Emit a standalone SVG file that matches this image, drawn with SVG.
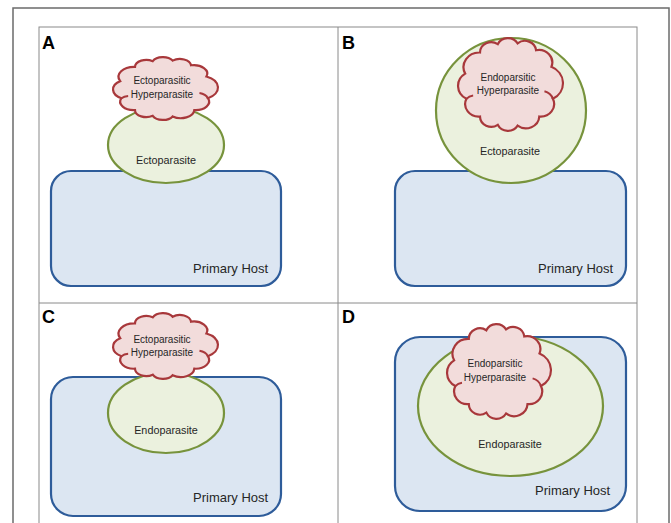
<svg xmlns="http://www.w3.org/2000/svg" xmlns:xlink="http://www.w3.org/1999/xlink" width="671" height="523" viewBox="0 0 671 523">
<style>
.frame{fill:none;stroke:#6b6b6b;stroke-width:1.5}
.grid{fill:none;stroke:#8a8a8a;stroke-width:1}
.host{fill:#dce6f2;stroke:#2e5c9a;stroke-width:2.2}
.para{fill:#ebf1de;stroke:#77933c;stroke-width:2.2}
.cloud{fill:#f2dcdb;stroke:#a8383b;stroke-width:2.2;vector-effect:non-scaling-stroke}
.hook{fill:none;stroke:#a8383b;stroke-width:2;vector-effect:non-scaling-stroke}
.lbl{font-family:"Liberation Sans",Arial,sans-serif;font-weight:bold;font-size:18px;fill:#000}
.t{font-family:"Liberation Sans",Arial,sans-serif;fill:#262626;text-anchor:middle}
.s{font-size:10px}
.m{font-size:10.8px}
.h{font-family:"Liberation Sans",Arial,sans-serif;font-size:13px;fill:#262626}
</style>
<defs>
<g id="cloudShape">
<path class="cloud" d="M11.5 63.7 A14 14 0 0 1 10.4 39.6 A14 14 0 0 1 23.6 19.4 A10 10 0 0 1 39.4 11.4 A10 10 0 0 1 57.1 10.6 A10 10 0 0 1 73.5 17.2 A12 12 0 0 1 87.2 33.1 A17 17 0 0 1 88.5 63.7 A12 12 0 0 1 76.4 80.6 A12 12 0 0 1 57.1 89.4 A10 10 0 0 1 39.4 88.6 A10 10 0 0 1 23.6 80.6 A12 12 0 0 1 11.5 63.7 Z"/>
<path class="hook" d="M11.5 63.7 A9 9 0 0 1 17.5 60.5"/>
<path class="hook" d="M88.5 63.7 A11 11 0 0 0 81 56.5"/>
</g>
</defs>
<rect class="frame" x="13" y="8" width="656" height="530"/>
<g id="grid">
<rect class="grid" x="39" y="27" width="598" height="510"/>
<line class="grid" x1="338" y1="27" x2="338" y2="537"/>
<line class="grid" x1="39" y1="303" x2="637" y2="303"/>
</g>
<g id="panelA">
<text class="lbl" x="42" y="49">A</text>
<g id="hostA"><rect class="host" x="51" y="171" width="230" height="115" rx="20"/><text class="h" x="193" y="273">Primary Host</text></g>
<g id="ectoA"><ellipse class="para" cx="166" cy="145" rx="58" ry="38"/><text class="t m" x="166" y="164">Ectoparasite</text></g>
<g id="hyperA"><use xlink:href="#cloudShape" transform="translate(108.5 53.1) scale(1.123 0.708)"/><text class="t s" x="162" y="84">Ectoparasitic</text><text class="t s" x="162" y="98">Hyperparasite</text></g>
</g>
<g id="panelB">
<text class="lbl" x="342" y="49">B</text>
<g id="hostB"><rect class="host" x="395" y="171" width="231" height="115" rx="20"/><text class="h" x="538" y="273">Primary Host</text></g>
<g id="ectoB"><ellipse class="para" cx="511" cy="110.5" rx="75" ry="72.5"/><text class="t m" x="510" y="155">Ectoparasite</text></g>
<g id="hyperB"><use xlink:href="#cloudShape" transform="translate(453.5 32.25) scale(1.123 1.045)"/><text class="t s" x="508" y="81">Endoparsitic</text><text class="t s" x="508" y="94">Hyperparasite</text></g>
</g>
<g id="panelC">
<text class="lbl" x="42" y="323">C</text>
<g id="hostC"><rect class="host" x="51" y="377" width="230" height="139" rx="22"/><text class="h" x="193" y="502">Primary Host</text></g>
<g id="endoC"><ellipse class="para" cx="166" cy="413" rx="58" ry="40"/><text class="t m" x="166" y="434">Endoparasite</text></g>
<g id="hyperC"><use xlink:href="#cloudShape" transform="translate(108.5 308.9) scale(1.123 0.742)"/><text class="t s" x="162" y="343">Ectoparasitic</text><text class="t s" x="162" y="356">Hyperparasite</text></g>
</g>
<g id="panelD">
<text class="lbl" x="342" y="323">D</text>
<g id="hostD"><rect class="host" x="395" y="337" width="231" height="174" rx="25"/><text class="h" x="535" y="495">Primary Host</text></g>
<g id="endoD"><ellipse class="para" cx="510.5" cy="406" rx="92.5" ry="70"/><text class="t m" x="510" y="448">Endoparasite</text></g>
<g id="hyperD"><use xlink:href="#cloudShape" transform="translate(442.55 318.1) scale(1.112 1.067)"/><text class="t s" x="495" y="367">Endoparsitic</text><text class="t s" x="495" y="381">Hyperparasite</text></g>
</g>
<g id="connectors"/>
</svg>
